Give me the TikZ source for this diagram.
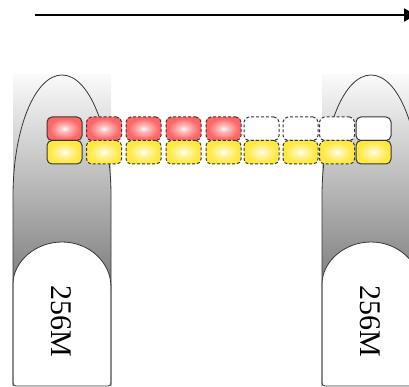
\documentclass[tikz,border=0pt]{standalone}
\usepackage{fontspec}
\setmainfont{Liberation Serif}
\usetikzlibrary{arrows.meta}

\definecolor{cellred}{RGB}{255,102,102}
\definecolor{cellyellow}{RGB}{255,232,64}
\definecolor{edgegray}{RGB}{55,55,55}

% soft glow in the middle of each cell
\pgfdeclareradialshading{redglow}{\pgfpoint{0bp}{0bp}}{%
  color(0bp)=(white); color(6bp)=(cellred!40!white); color(22bp)=(cellred); color(50bp)=(cellred)}
\pgfdeclareradialshading{yellowglow}{\pgfpoint{0bp}{0bp}}{%
  color(0bp)=(white); color(6bp)=(cellyellow!40!white); color(22bp)=(cellyellow); color(50bp)=(cellyellow)}

\tikzset{
  cell/.style={draw=edgegray, line width=1pt, rounded corners=5pt,
    minimum width=35pt, minimum height=23.5pt, inner sep=0pt},
  redcell/.style={cell, shading=redglow},
  yellowcell/.style={cell, shading=yellowglow},
  emptycell/.style={cell, fill=white},
  open/.style={dash pattern=on 3pt off 2pt},
  outline/.style={draw=edgegray, line width=0.8pt},
  label256/.style={rotate=-90, font=\fontsize{30}{30}\selectfont, inner sep=0pt},
}

\begin{document}
\begin{tikzpicture}[x=1pt, y=-1pt]
\useasboundingbox (0,0) rectangle (409,387);

% time axis
\coordinate (axisstart) at (35,15);
\coordinate (axisend) at (416,15);
\draw[line width=2pt, -{Triangle[length=12pt, width=13pt]}] (axisstart) -- (axisend);

% two memory columns
\foreach \cx/\nm in {62/left, 371/right}{
  \shade[top color=black!2, bottom color=black!52] (\cx-49,75) rectangle (\cx+49,290);
  \draw[outline, fill=white] (\cx-49,287)
      arc[start angle=180, end angle=360, x radius=49, y radius=45]
      [rounded corners=3pt] -- (\cx+49,386) -- (\cx-49,386) -- cycle;
  \draw[outline] (\cx-49,386) -- (\cx-49,196)
      arc[start angle=180, end angle=360, x radius=49, y radius=121]
      -- (\cx+49,386);
  \node[label256] (mem\nm) at (\cx-1,321) {256M};
}

% top row of cells
\node[redcell] (t1) at (64.5,128.75) {};
\node[redcell, open] (t2) at (104,128.75) {};
\node[redcell, open] (t3) at (143.5,128.75) {};
\node[redcell, open] (t4) at (183.5,128.75) {};
\node[redcell, open] (t5) at (223.5,128.75) {};
\node[emptycell, open] (t6) at (261.5,128.75) {};
\node[emptycell, open] (t7) at (300.5,128.75) {};
\node[emptycell, open] (t8) at (337,128.75) {};
\node[emptycell] (t9) at (373.5,128.75) {};

% bottom row of cells
\node[yellowcell] (b1) at (64.5,152.25) {};
\node[yellowcell, open] (b2) at (104,152.25) {};
\node[yellowcell, open] (b3) at (143.5,152.25) {};
\node[yellowcell, open] (b4) at (183.5,152.25) {};
\node[yellowcell, open] (b5) at (223.5,152.25) {};
\node[yellowcell, open] (b6) at (261.5,152.25) {};
\node[yellowcell, open] (b7) at (300.5,152.25) {};
\node[yellowcell, open] (b8) at (337,152.25) {};
\node[yellowcell] (b9) at (373.5,152.25) {};
\end{tikzpicture}
\end{document}
